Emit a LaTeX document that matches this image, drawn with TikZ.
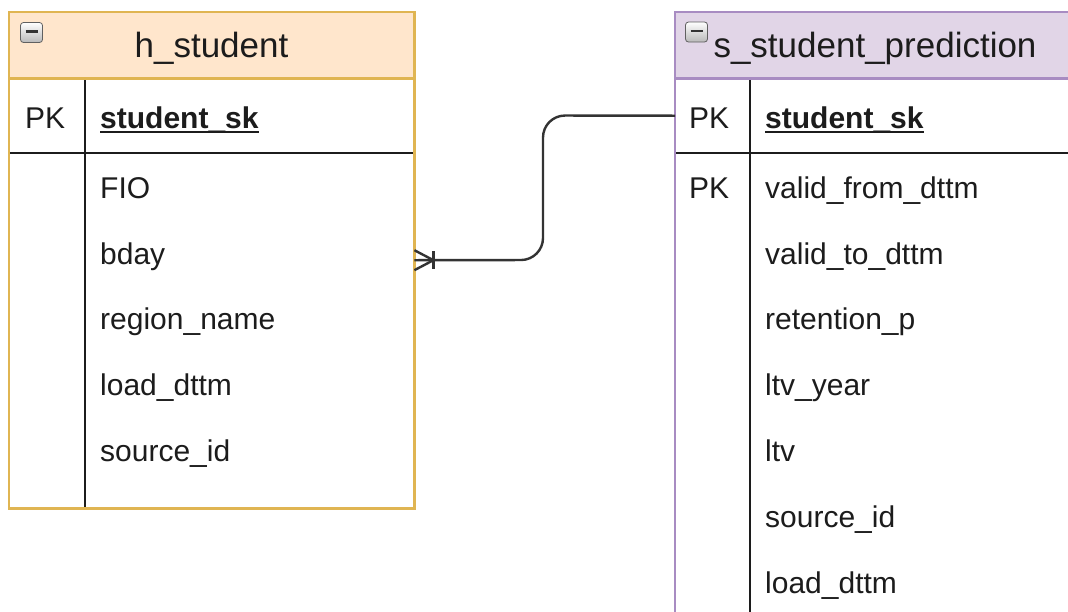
\documentclass[tikz,border=0pt]{standalone}
\usepackage{fontspec}
\setmainfont{Liberation Sans}
\definecolor{hsfill}{HTML}{FFE6CC}
\definecolor{hsline}{HTML}{E0B552}
\definecolor{spfill}{HTML}{E1D5E7}
\definecolor{spline}{HTML}{A88CC2}
\definecolor{ink}{HTML}{1C1C1C}
\newcommand\keyul[1]{\setbox0\hbox{#1}\rlap{\rule[-4pt]{\wd0}{1.8pt}}\box0}
\begin{document}
\begin{tikzpicture}[x=1pt,y=-1pt,
  tablebody/.style={draw=none,fill=white,minimum width=405pt,anchor=north west,inner sep=0pt},
  tablehead/.style={draw=none,minimum width=405pt,minimum height=66pt,anchor=north west,inner sep=0pt},
  rowbox/.style={minimum width=405pt,minimum height=75pt,anchor=north west,inner sep=0pt},
  titletext/.style={text=ink,font=\fontsize{35}{40}\selectfont,inner sep=0pt},
  field/.style={text=ink,font=\fontsize{30}{36}\selectfont,anchor=west,inner sep=0pt,text height=21.5pt,text depth=0pt},
  divline/.style={draw=ink,line width=2pt},
  conn/.style={draw=ink!90,line width=2.4pt},
  icon/.style={draw=gray!75!black,line width=0.8pt,rounded corners=3pt,top color=white,bottom color=gray!55,minimum width=22pt,minimum height=20pt,inner sep=0pt},
  iconbar/.style={draw=black!80,line width=2.2pt}
]
\clip (0,0) rectangle (1068,611);
\fill[white] (0,0) rectangle (1068,611);

% ---- h_student ----
\node[tablebody,minimum height=496pt] (hs) at (9,12) {};
\node[tablehead,fill=hsfill] (hsHead) at (9,12) {};
\node[titletext] (hsTitle) at (211.5,48.5) {h\_student};
\node[rowbox] (hsRowPK) at (9,78) {};
\draw[divline] ([yshift=-75pt]hsHead.south west) -- ([yshift=-75pt]hsHead.south east);
\draw[divline] ([xshift=76pt]hsHead.south west) -- ([xshift=76pt]hs.south west);
\draw[draw=hsline,line width=2.2pt] (hsHead.south west) -- (hsHead.south east);
\draw[draw=hsline,line width=2.2pt] (hs.north west) rectangle (hs.south east);
\node[icon] (hsIcon) at (31.5,32.5) {};
\draw[iconbar] ([xshift=-6pt,yshift=1pt]hsIcon.center) -- ([xshift=6pt,yshift=1pt]hsIcon.center);

\node[field] (hsPK) at (25,118) {PK};
\node[field] (hsKey) at (100,118) {\keyul{\textbf{student\_sk}}};
\node[field] (hsF1) at (100,188) {FIO};
\node[field] (hsF2) at (100,254) {bday};
\node[field] (hsF3) at (100,319) {region\_name};
\node[field] (hsF4) at (100,385) {load\_dttm};
\node[field] (hsF5) at (100,451) {source\_id};

% ---- s_student_prediction ----
\node[tablebody,minimum height=640pt] (sp) at (675,12) {};
\node[tablehead,fill=spfill] (spHead) at (675,12) {};
\node[titletext] (spTitle) at (875,48.5) {s\_student\_prediction};
\node[rowbox] (spRowPK) at (675,78) {};
\draw[divline] ([yshift=-75pt]spHead.south west) -- ([yshift=-75pt]spHead.south east);
\draw[divline] ([xshift=75pt]spHead.south west) -- ([xshift=75pt]sp.south west);
\draw[draw=spline,line width=2.2pt] (spHead.south west) -- (spHead.south east);
\draw[draw=spline,line width=2.2pt] (sp.north west) rectangle (sp.south east);
\node[icon] (spIcon) at (696.5,32) {};
\draw[iconbar] ([xshift=-6pt,yshift=1pt]spIcon.center) -- ([xshift=6pt,yshift=1pt]spIcon.center);

\node[field] (spPK) at (689,118) {PK};
\node[field] (spKey) at (765,118) {\keyul{\textbf{student\_sk}}};
\node[field] (spPK2) at (689,188) {PK};
\node[field] (spF1) at (765,188) {valid\_from\_dttm};
\node[field] (spF2) at (765,254) {valid\_to\_dttm};
\node[field] (spF3) at (765,319) {retention\_p};
\node[field] (spF4) at (765,385) {ltv\_year};
\node[field] (spF5) at (765,451) {ltv};
\node[field] (spF6) at (765,517) {source\_id};
\node[field] (spF7) at (765,583) {load\_dttm};

% ---- relationship: one-and-only side at the satellite, many at the hub ----
\draw[conn,rounded corners=22pt] (spRowPK.west) -- (543,115.5) -- (543,260) -- (hs.east);
\draw[conn] ([yshift=10pt]hs.east) -- ([xshift=19pt]hs.east) -- ([yshift=-10pt]hs.east);
\draw[conn] ([xshift=19pt,yshift=9pt]hs.east) -- ([xshift=19pt,yshift=-9pt]hs.east);
\end{tikzpicture}
\end{document}
